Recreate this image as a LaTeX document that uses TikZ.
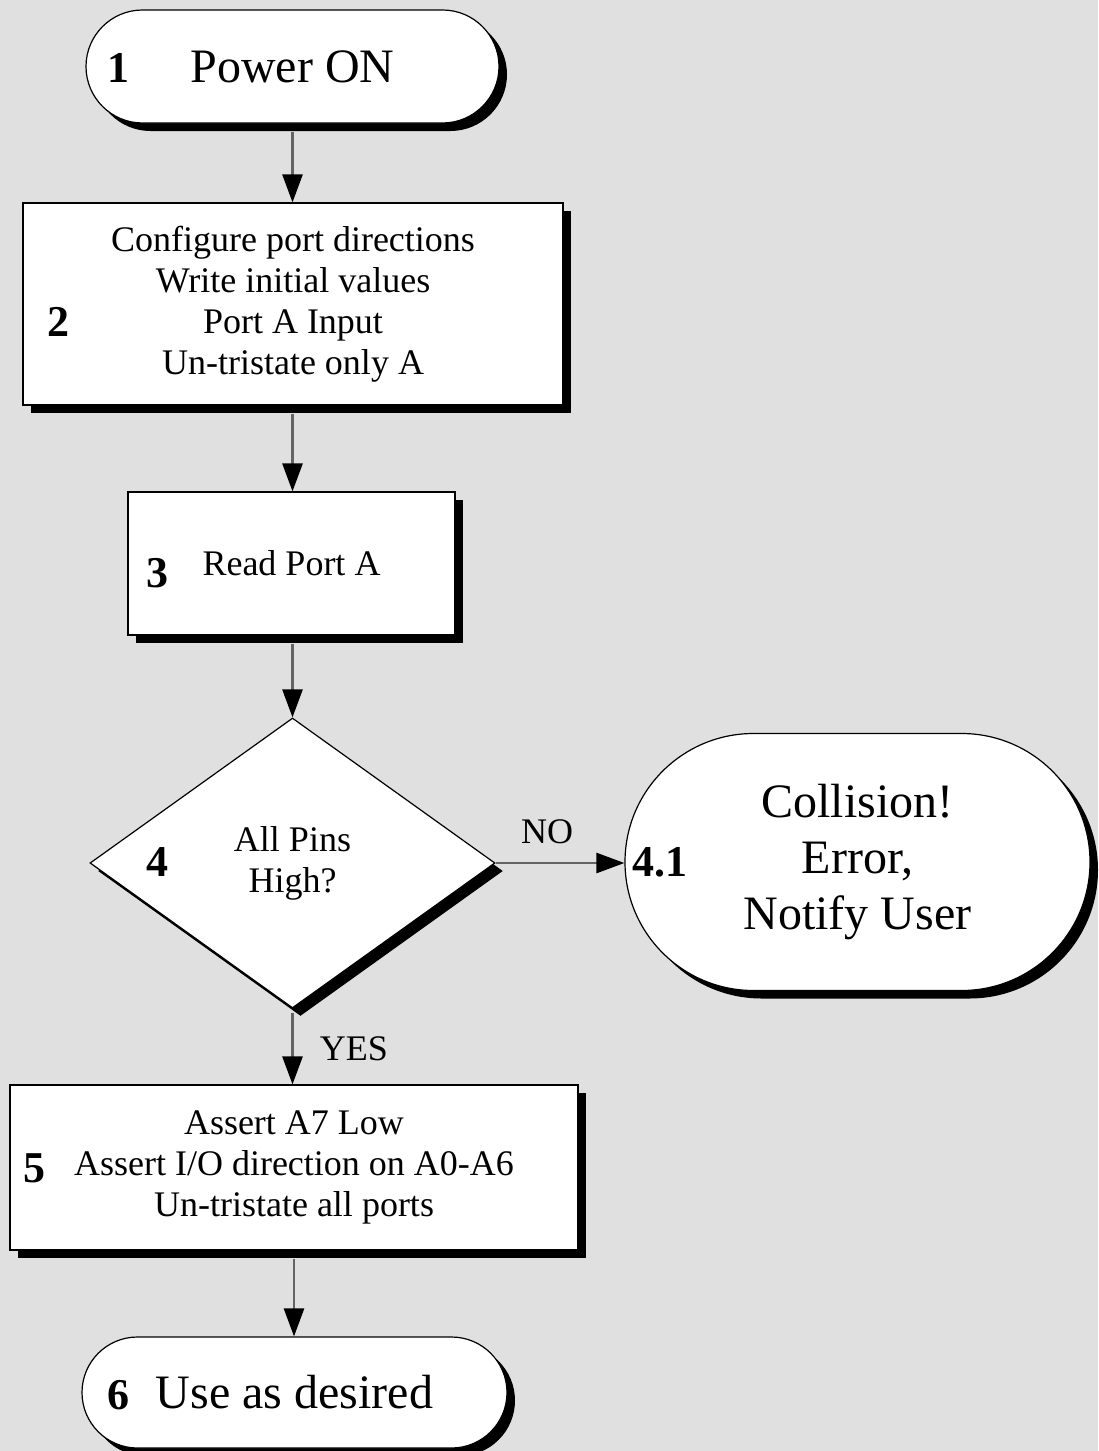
\documentclass[tikz,border=0pt]{standalone}
\usepackage{fontspec}
\setmainfont{Liberation Serif}
\usetikzlibrary{shapes.geometric,shapes.misc,shadows,arrows.meta}
\definecolor{bgc}{RGB}{224,224,224}
\definecolor{linec}{RGB}{100,100,100}
\tikzset{
  shape base/.style={draw=black, line width=0.6pt, fill=white, inner sep=0pt, align=center,
    drop shadow={shadow xshift=4pt, shadow yshift=-4pt, opacity=1, fill=black}},
  procbox/.style={shape base, rectangle, font=\fontsize{18}{20.5}\selectfont},
  termbox/.style={shape base, rounded rectangle, rounded rectangle arc length=180, font=\fontsize{24}{28}\selectfont},
  decbox/.style={shape base, diamond, font=\fontsize{18}{20.5}\selectfont},
  num/.style={font=\fontsize{22}{24}\selectfont\bfseries, inner sep=0pt},
  lbl/.style={font=\fontsize{18}{20}\selectfont, inner sep=0pt},
  conn/.style={draw=linec, line width=1.3pt, -{Triangle[length=14pt,width=10pt,color=black]}}
}
\begin{document}
\begin{tikzpicture}[x=0.5pt,y=-0.5pt]
\fill[bgc] (0,0) rectangle (1098,1451);
\useasboundingbox (0,0) rectangle (1098,1451);

\node[termbox, minimum width=206.5pt, minimum height=56.5pt] (n1) at (292.5,66.5) {Power ON};
\node[num] (l1) at (118,68) {1};

\node[procbox, minimum width=270pt, minimum height=101pt] (n2) at (293,304)
  {Configure port directions\\Write initial values\\Port A Input\\Un-tristate only A};
\node[num] (l2) at (58,322) {2};

\node[procbox, minimum width=163.5pt, minimum height=71.5pt] (n3) at (291.5,563.5) {Read Port A};
\node[num] (l3) at (157,573) {3};

\node[decbox, minimum width=202.5pt, minimum height=145pt] (n4) at (292.5,863) {All Pins\\High?};
\node[num] (l4) at (157,862) {4};

\node[termbox, minimum width=232.5pt, minimum height=128.5pt] (n41) at (857.5,862)
  {Collision!\\Error,\\Notify User};
\node[num] (l41) at (660,862) {4.1};

\node[procbox, minimum width=284pt, minimum height=82.5pt] (n5) at (294,1167.5)
  {Assert A7 Low\\Assert I/O direction on A0-A6\\Un-tristate all ports};
\node[num] (l5) at (35,1168) {5};

\node[termbox, minimum width=212.5pt, minimum height=55.5pt] (n6) at (294.5,1392.5) {Use as desired};
\node[num] (l6) at (118,1395) {6};

\draw[conn] ([yshift=-4pt]n1.south) -- (n1.south |- n2.north);
\draw[conn] ([yshift=-4pt]n2.south -| n1.south) -- (n1.south |- n3.north);
\draw[conn] ([yshift=-4pt]n3.south -| n1.south) -- (n4.north);
\draw[conn] (n4.east) -- node[lbl, pos=0.4, above=9pt] (no) {NO} (n4.east -| n41.west);
\draw[conn] ([yshift=-2pt]n4.south) -- node[lbl, right=13pt] (yes) {YES} (n4.south |- n5.north);
\draw[conn] ([yshift=-4pt]n5.south) -- (n5.south |- n6.north);
\end{tikzpicture}
\end{document}
